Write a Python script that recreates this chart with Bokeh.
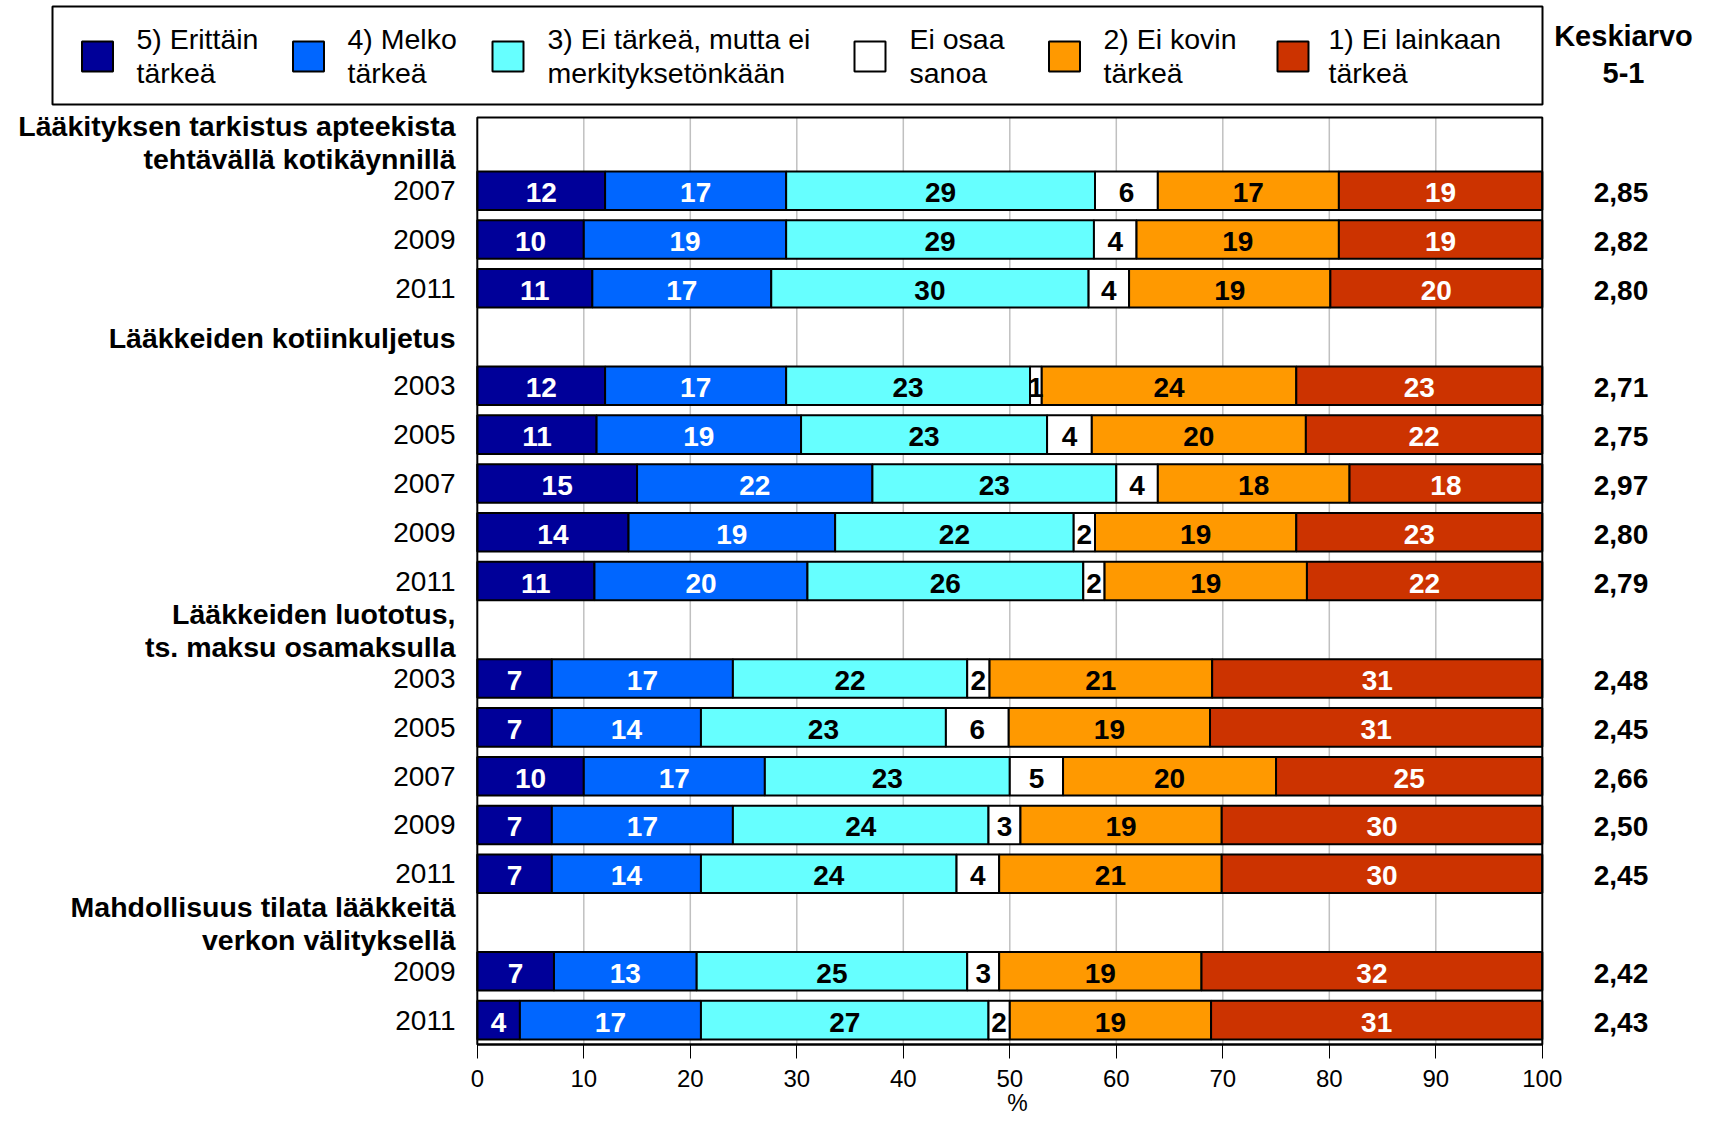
from bokeh.plotting import figure
from bokeh.models import ColumnDataSource, Range1d, FixedTicker
from bokeh.core.properties import value
from bokeh.embed import file_html
from bokeh.resources import INLINE

# ---------------- data ----------------
category_names = [("5) Erittäin", "tärkeä"), ("4) Melko", "tärkeä"),
                  ("3) Ei tärkeä, mutta ei", "merkityksetönkään"),
                  ("Ei osaa", "sanoa"), ("2) Ei kovin", "tärkeä"),
                  ("1) Ei lainkaan", "tärkeä")]
group_titles = [("Lääkityksen tarkistus apteekista", "tehtävällä kotikäynnillä"),
                ("Lääkkeiden kotiinkuljetus",),
                ("Lääkkeiden luototus,", "ts. maksu osamaksulla"),
                ("Mahdollisuus tilata lääkkeitä", "verkon välityksellä")]
group_sizes = [3, 5, 5, 2]
years = ["2007", "2009", "2011",
         "2003", "2005", "2007", "2009", "2011",
         "2003", "2005", "2007", "2009", "2011",
         "2009", "2011"]
erittain = [12.0, 10.0, 10.8, 12.0, 11.2, 15.0, 14.2, 11.0, 7.0, 7.0, 10.0, 7.0, 7.0, 7.2, 4.0]
melko = [17.0, 19.0, 16.8, 17.0, 19.2, 22.1, 19.4, 20.0, 17.0, 14.0, 17.0, 17.0, 14.0, 13.4, 17.0]
ei_tarkea = [29.0, 28.9, 29.8, 22.9, 23.1, 22.9, 22.4, 25.9, 22.0, 23.0, 23.0, 24.0, 24.0, 25.4, 27.0]
ei_osaa = [5.9, 4.0, 3.8, 1.1, 4.2, 3.9, 2.0, 2.0, 2.1, 5.9, 5.0, 3.0, 4.0, 3.0, 2.0]
ei_kovin = [17.0, 19.0, 18.9, 23.9, 20.1, 18.0, 18.9, 19.0, 20.9, 18.9, 20.0, 18.9, 20.9, 19.0, 18.9]
ei_lainkaan = [19.1, 19.1, 19.9, 23.1, 22.2, 18.1, 23.1, 22.1, 31.0, 31.2, 25.0, 30.1, 30.1, 32.0, 31.1]
keskiarvo = [2.85, 2.82, 2.80, 2.71, 2.75, 2.97, 2.80, 2.79, 2.48, 2.45, 2.66, 2.50, 2.45, 2.42, 2.43]
x_ticks = [0, 10, 20, 30, 40, 50, 60, 70, 80, 90, 100]
x_title = "%"

# ---------------- styles ----------------
colors = ["#000099", "#0066FF", "#66FFFF", "#FFFFFF", "#FF9900", "#CC3300"]
text_colors = ["white", "white", "black", "black", "black", "white"]
FONT = value("Liberation Sans")

# pixel -> data helpers (pixel coords of the picture)
PX0, PPU = 476.8, 10.65      # x pixel of value 0, pixels per percent
PY0, PPS = 117.0, 48.79      # y pixel of plot top, pixels per row slot


def dx(px):
    return (px - PX0) / PPU


def dy(py):
    return -0.5 + (py - PY0) / PPS


def off(pix):
    return pix / PPS


W, H = 1695, 1115
p = figure(width=W, height=H, output_backend="svg", toolbar_location=None,
           x_range=Range1d(dx(0), dx(W)), y_range=Range1d(dy(H), dy(0)),
           y_axis_location=None, min_border_left=0, min_border_right=0,
           min_border_top=0, min_border_bottom=0)
p.outline_line_color = None
p.xgrid.visible = False
p.ygrid.visible = False
p.background_fill_color = "white"
p.border_fill_color = "white"

ax = p.xaxis[0]
ax.fixed_location = 18.5
ax.ticker = FixedTicker(ticks=x_ticks)
ax.bounds = (0, 100)
ax.axis_line_color = "black"
ax.axis_line_width = 2
ax.major_tick_out = 14
ax.major_tick_in = 0
ax.minor_tick_out = 0
ax.minor_tick_in = 0
ax.major_tick_line_color = "black"
ax.major_label_text_font = "Liberation Sans"
ax.major_label_text_font_size = "24px"
ax.major_label_text_color = "black"
ax.major_label_standoff = 11

# ---------------- slots ----------------
heading_slots, bar_slots = [], []
s = 0
for n in group_sizes:
    heading_slots.append(s)
    s += 1
    for _ in range(n):
        bar_slots.append(s)
        s += 1

# grid lines inside the plot box
gx = x_ticks[1:-1]
p.segment(x0=gx, y0=[-0.5] * len(gx), x1=gx, y1=[18.5] * len(gx),
          line_color="#C0C0C0", line_width=1.5)

# ---------------- bars ----------------
series = [erittain, melko, ei_tarkea, ei_osaa, ei_kovin, ei_lainkaan]
d = dict(left=[], right=[], top=[], bottom=[], color=[], label=[], lx=[], ly=[], tc=[])
cum = [0.0] * len(bar_slots)
half = 0.395
for k, vals in enumerate(series):
    for i, v in enumerate(vals):
        sl = bar_slots[i]
        d["left"].append(cum[i])
        d["right"].append(cum[i] + v)
        d["top"].append(sl - half)
        d["bottom"].append(sl + half)
        d["color"].append(colors[k])
        d["label"].append(str(int(round(v))))
        d["lx"].append(cum[i] + v / 2)
        d["ly"].append(sl + off(2))
        d["tc"].append(text_colors[k])
        cum[i] += v
src = ColumnDataSource(d)
p.quad(left="left", right="right", top="top", bottom="bottom", fill_color="color",
       line_color="black", line_width=2, source=src)
p.text(x="lx", y="ly", text="label", text_color="tc", text_align="center",
       text_baseline="alphabetic", text_font=FONT, text_font_size="28px",
       text_font_style="bold", source=src)

# plot box border
p.quad(left=[0], right=[100], top=[-0.5], bottom=[18.5], fill_color=None,
       line_color="black", line_width=2)

# ---------------- row labels ----------------
p.text(x=[dx(455)] * len(years), y=[sl + off(0) for sl in bar_slots], text=years,
       text_align="right", text_baseline="alphabetic", text_font=FONT,
       text_font_size="28px", text_color="black")

hx, hy, ht = [], [], []
for sl, title in zip(heading_slots, group_titles):
    if len(title) == 1:
        hx.append(dx(455)); hy.append(sl + off(0.5)); ht.append(title[0])
    else:
        hx.append(dx(455)); hy.append(sl + off(-16)); ht.append(title[0])
        hx.append(dx(455)); hy.append(sl + off(17)); ht.append(title[1])
p.text(x=hx, y=hy, text=ht, text_align="right", text_baseline="alphabetic",
       text_font=FONT, text_font_size="28.5px", text_font_style="bold", text_color="black")

# mean values
p.text(x=[dx(1620.5)] * len(keskiarvo), y=[sl + off(2) for sl in bar_slots],
       text=[f"{m:.2f}".replace(".", ",") for m in keskiarvo],
       text_align="center", text_baseline="alphabetic", text_font=FONT,
       text_font_size="28px", text_font_style="bold", text_color="black")
p.text(x=[dx(1623), dx(1623)], y=[dy(35), dy(72)], text=["Keskiarvo", "5-1"],
       text_align="center", text_baseline="alphabetic", text_font=FONT,
       text_font_size="29px", text_font_style="bold", text_color="black")

# ---------------- legend ----------------
p.quad(left=[dx(52)], right=[dx(1542)], top=[dy(6)], bottom=[dy(104)],
       fill_color=None, line_color="black", line_width=2)
sw_x = [81.5, 292.5, 492, 854, 1048.5, 1277]
tx_x = [136, 347, 547, 909, 1103, 1328]
p.quad(left=[dx(x) for x in sw_x], right=[dx(x + 31) for x in sw_x],
       top=[dy(41)] * 6, bottom=[dy(71)] * 6, fill_color=colors,
       line_color="black", line_width=2)
lx, ly, lt = [], [], []
for x, (a, b) in zip(tx_x, category_names):
    lx += [dx(x), dx(x)]
    ly += [dy(38.5), dy(72)]
    lt += [a, b]
p.text(x=lx, y=ly, text=lt, text_align="left", text_baseline="alphabetic",
       text_font=FONT, text_font_size="28.5px", text_color="black")

# axis title "%" under the 0-100 scale
p.text(x=[dx(1017)], y=[dy(1102)], text=[x_title], text_align="center",
       text_baseline="middle", text_font=FONT, text_font_size="23px",
       text_color="black")

open("out.html", "w").write(file_html(p, INLINE))
